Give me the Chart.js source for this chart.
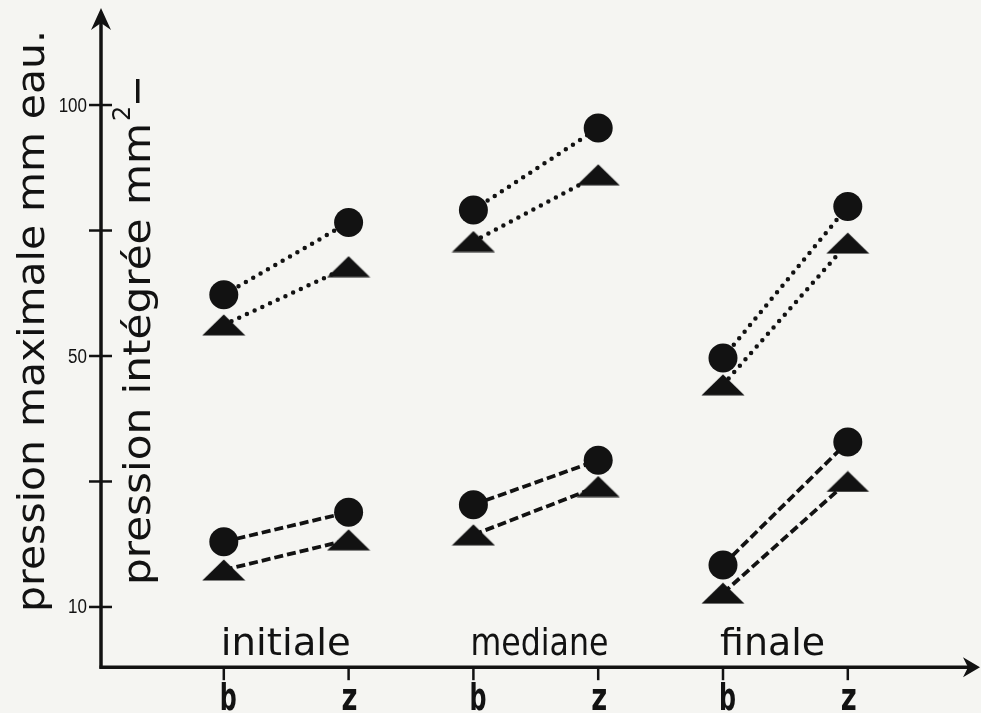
<!DOCTYPE html>
<html lang="fr">
<head>
  <meta charset="UTF-8" />
  <title>Pression maximale et intégrée</title>
  <script src="https://cdn.jsdelivr.net/npm/chart.js"></script>
  <style>
    html, body {
      margin: 0;
      padding: 0;
      background: #f5f5f2;
    }
    #wrap {
      width: 981px;
      height: 713px;
    }
  </style>
</head>
<body>
  <div id="wrap"><canvas id="graphe" width="981" height="713"></canvas></div>

  <script>
    // catégories de l'axe x et phases
    const categories = ['b', 'z', 'b', 'z', 'b', 'z'];
    const phases = ['initiale', 'mediane', 'finale'];

    // graduations de l'axe y (échelle non linéaire du document)
    const yTickValues = [10, 30, 50, 75, 100];
    const yTickLabels = ['10', '', '50', '', '100'];

    // série en pointillés
    const maxPointilles = [62.2, 76.6, 79.1, 95.4, 49.7, 79.8];
    const intPointilles = [56.2, 67.8, 72.8, 86.1, 45.4, 72.5];
    // série en tirets
    const maxTirets = [20.4, 25.1, 26.3, 33.4, 16.7, 36.3];
    const intTirets = [15.9, 20.7, 21.5, 29.2, 12.2, 30.0];

    const encre = '#121212';
    const largeursPhases = [130, 138, 105];

    // position sur l'axe : 10..50 puis 50..100, graduations équidistantes
    function versAxe(v) {
      return v <= 50 ? (v - 10) / 20 : 2 + (v - 50) / 25;
    }

    // points b-z reliés par phase, coupés entre les phases
    function points(valeurs) {
      const pts = [];
      valeurs.forEach((v, i) => {
        pts.push({ x: i + 1, y: versAxe(v) });
        if (i % 2 === 1 && i < valeurs.length - 1) pts.push({ x: i + 1.5, y: null });
      });
      return pts;
    }

    // triangle plat dessiné à la main
    const triangle = document.createElement('canvas');
    triangle.width = 44;
    triangle.height = 22;
    (function () {
      const t = triangle.getContext('2d');
      t.fillStyle = encre;
      t.beginPath();
      t.moveTo(22, 0.5);
      t.lineTo(43.5, 21.5);
      t.lineTo(0.5, 21.5);
      t.closePath();
      t.fill();
    })();

    function serie(label, valeurs, style, dash, cap, epaisseur) {
      return {
        label: label,
        data: points(valeurs),
        borderColor: encre,
        backgroundColor: encre,
        borderWidth: epaisseur,
        borderDash: dash,
        borderCapStyle: cap,
        pointStyle: style,
        pointRadius: 14.5,
        pointBorderWidth: 0,
        tension: 0,
        spanGaps: false
      };
    }

    function texteAjuste(ctx, texte, x, y, largeur, police, angle) {
      ctx.save();
      ctx.font = police;
      const w = ctx.measureText(texte).width;
      ctx.translate(x, y);
      ctx.rotate(angle);
      ctx.scale(largeur / w, 1);
      ctx.fillText(texte, 0, 0);
      ctx.restore();
    }

    const axes = {
      id: 'axes',
      beforeDraw(chart) {
        const ctx = chart.ctx;
        ctx.save();
        ctx.fillStyle = '#f5f5f2';
        ctx.fillRect(0, 0, chart.width, chart.height);
        ctx.restore();
      },
      beforeDatasetsDraw(chart) {
        const { ctx, scales: { x, y } } = chart;
        const x0 = x.getPixelForValue(0) + 2;
        const y0 = y.getPixelForValue(y.min);

        ctx.save();
        ctx.strokeStyle = encre;
        ctx.fillStyle = encre;
        ctx.lineWidth = 3.5;

        // axe y et flèche
        ctx.beginPath();
        ctx.moveTo(x0, y0 + 1.5);
        ctx.lineTo(x0, 14);
        ctx.stroke();
        ctx.beginPath();
        ctx.moveTo(x0, 8);
        ctx.lineTo(x0 + 10, 30);
        ctx.lineTo(x0, 23);
        ctx.lineTo(x0 - 10, 30);
        ctx.closePath();
        ctx.fill();

        // axe x et flèche
        ctx.beginPath();
        ctx.moveTo(x0 - 1.5, y0);
        ctx.lineTo(972, y0);
        ctx.stroke();
        ctx.beginPath();
        ctx.moveTo(980, y0);
        ctx.lineTo(963, y0 - 10);
        ctx.lineTo(968, y0);
        ctx.lineTo(963, y0 + 10);
        ctx.closePath();
        ctx.fill();

        // graduations y
        ctx.lineWidth = 2.5;
        ctx.textAlign = 'right';
        ctx.textBaseline = 'middle';
        yTickValues.forEach((v, i) => {
          const py = y.getPixelForValue(versAxe(v));
          ctx.beginPath();
          ctx.moveTo(x0 - 12, py);
          ctx.lineTo(x0 + 11, py);
          ctx.stroke();
          const lab = yTickLabels[i];
          if (lab) {
            ctx.save();
            ctx.font = '20px "Liberation Sans"';
            ctx.translate(x0 - 14, py + 1);
            ctx.scale(0.85, 1);
            ctx.fillText(lab, 0, 0);
            ctx.restore();
          }
        });

        // graduations x
        ctx.textBaseline = 'alphabetic';
        categories.forEach((c, i) => {
          const px = x.getPixelForValue(i + 1);
          ctx.beginPath();
          ctx.moveTo(px, y0);
          ctx.lineTo(px, y0 + 13);
          ctx.stroke();
          if (c === 'b') {
            ctx.textAlign = 'left';
            texteAjuste(ctx, c, px - 4, 710, 17, 'bold 38px "DejaVu Sans"', 0);
          } else {
            ctx.textAlign = 'center';
            texteAjuste(ctx, c, px + 1, 710, 16, 'bold 38px "DejaVu Sans"', 0);
          }
        });

        // noms des phases, calés sur b
        ctx.textAlign = 'left';
        phases.forEach((p, i) => {
          const px = x.getPixelForValue(2 * i + 1) - 3;
          texteAjuste(ctx, p, px, 655, largeursPhases[i], '38px "DejaVu Sans"', 0);
        });

        // titres verticaux
        texteAjuste(ctx, 'pression maximale mm eau.', 44, 612, 582, '38px "DejaVu Sans"', -Math.PI / 2);
        texteAjuste(ctx, 'pression intégrée mm', 150, 585, 462, '38px "DejaVu Sans"', -Math.PI / 2);
        ctx.save();
        ctx.translate(150, 121);
        ctx.rotate(-Math.PI / 2);
        ctx.font = '24px "DejaVu Sans"';
        ctx.fillText('2', 0, -20);
        ctx.fillRect(18, -14, 24, 3.5);
        ctx.restore();

        ctx.restore();
      }
    };

    const ctx = document.getElementById('graphe').getContext('2d');
    new Chart(ctx, {
      type: 'line',
      data: {
        datasets: [
          serie('pression maximale (pointillés)', maxPointilles, 'circle', [0, 8.5], 'round', 4.5),
          serie('pression intégrée (pointillés)', intPointilles, triangle, [0, 8.5], 'round', 4.5),
          serie('pression maximale (tirets)', maxTirets, 'circle', [9, 4], 'butt', 3.8),
          serie('pression intégrée (tirets)', intTirets, triangle, [9, 4], 'butt', 3.8)
        ]
      },
      options: {
        responsive: false,
        animation: false,
        layout: { autoPadding: false, padding: { left: 99, right: 8.4, top: 0, bottom: 45.8 } },
        plugins: {
          legend: { display: false },
          tooltip: { enabled: false }
        },
        scales: {
          x: { type: 'linear', min: 0, max: 7, display: false },
          y: { type: 'linear', min: -0.48, max: 4.837, display: false }
        }
      },
      plugins: [axes]
    });
  </script>
</body>
</html>
